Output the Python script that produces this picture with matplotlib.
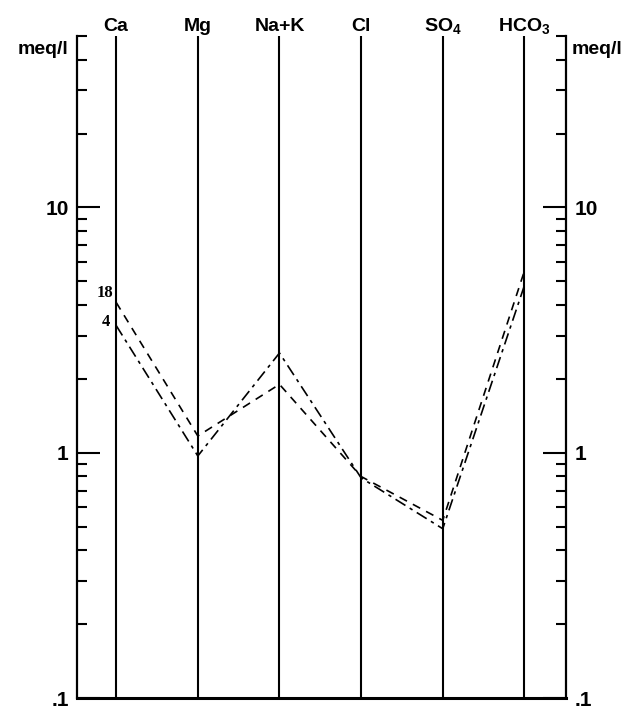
import matplotlib
matplotlib.use("Agg")
import matplotlib.pyplot as plt
from matplotlib.ticker import FixedLocator, FixedFormatter, NullFormatter
import matplotlib.transforms as mtransforms

# ---- data ----
ions = ["Ca", "Mg", "Na+K", "Cl", "SO$_4$", "HCO$_3$"]
sample_names = ["18", "4"]
sample_18 = [4.1, 1.17, 1.9, 0.80, 0.53, 5.5]
sample_4 = [3.3, 0.97, 2.55, 0.79, 0.49, 4.8]
major_ticks = [0.1, 1, 10]
major_labels = [".1", "1", "10"]
minor_ticks = [0.2, 0.3, 0.4, 0.5, 0.6, 0.7, 0.8, 0.9,
               2, 3, 4, 5, 6, 7, 8, 9,
               20, 30, 40, 50]
unit_label = "meq/l"

plt.rcParams["font.family"] = ["Liberation Sans", "DejaVu Sans"]
plt.rcParams["font.weight"] = "bold"
plt.rcParams["mathtext.fontset"] = "custom"
plt.rcParams["mathtext.rm"] = "Liberation Sans:bold"
plt.rcParams["mathtext.bf"] = "Liberation Sans:bold"
plt.rcParams["mathtext.it"] = "Liberation Sans:bold"
plt.rcParams["mathtext.default"] = "bf"

W, H = 632, 706
fig = plt.figure(figsize=(W / 100, H / 100), dpi=100)
ax_left, ax_right, ax_top, ax_bottom = 77, 566, 36, 698
ax = fig.add_axes([ax_left / W, 1 - ax_bottom / H,
                   (ax_right - ax_left) / W, (ax_bottom - ax_top) / H])

positions = list(range(len(ions)))
ax.set_yscale("log")
ax.set_xlim(-0.48, 5.51)
ax.set_ylim(0.1, 50)

# vertical ion lines
ax.vlines(positions, 0.1, 50, colors="black", linewidth=1.5, zorder=2)

# sample lines
ax.plot(positions, sample_18, color="black", linewidth=1.2,
        linestyle=(0, (5, 4)), zorder=3)
ax.plot(positions, sample_4, color="black", linewidth=1.2,
        linestyle=(0, (7, 3, 2, 3)), zorder=3)

# sample labels
ax.annotate(sample_names[0], xy=(positions[0], sample_18[0]),
            xytext=(-2.2, 6.5), textcoords="offset points",
            ha="right", va="center", fontsize=12,
            family="Liberation Serif", fontweight="bold")
ax.annotate(sample_names[1], xy=(positions[0], sample_4[0]),
            xytext=(-4.3, 2.2), textcoords="offset points",
            ha="right", va="center", fontsize=12,
            family="Liberation Serif", fontweight="bold")

# spines
ax.spines["top"].set_visible(False)
ax.spines["left"].set_linewidth(1.6)
ax.spines["right"].set_linewidth(1.6)
ax.spines["bottom"].set_linewidth(2.2)

# y ticks
ax.yaxis.set_major_locator(FixedLocator(major_ticks))
ax.yaxis.set_major_formatter(FixedFormatter(major_labels))
ax.yaxis.set_minor_locator(FixedLocator(minor_ticks))
ax.yaxis.set_minor_formatter(NullFormatter())
ax.tick_params(axis="y", which="both", direction="in", left=True, right=True,
               labelleft=True, labelright=True, width=1.5, pad=6,
               labelsize=15)
ax.tick_params(axis="y", which="major", length=16.5)
ax.tick_params(axis="y", which="minor", length=7.5)

# x: ion labels on top
ax.set_xticks([])
trans = mtransforms.blended_transform_factory(ax.transData, ax.transAxes)
for p, name in zip(positions, ions):
    ax.text(p, 1 + 5 / (ax_bottom - ax_top), name, transform=trans,
            ha="center", va="baseline", fontsize=14, fontweight="bold")

# unit labels
fig.text(68 / W, 1 - 49 / H, unit_label, ha="right", va="center",
         fontsize=14, fontweight="bold")
fig.text(572 / W, 1 - 50 / H, unit_label, ha="left", va="center",
         fontsize=14, fontweight="bold")

fig.savefig("out.png", dpi=100)
